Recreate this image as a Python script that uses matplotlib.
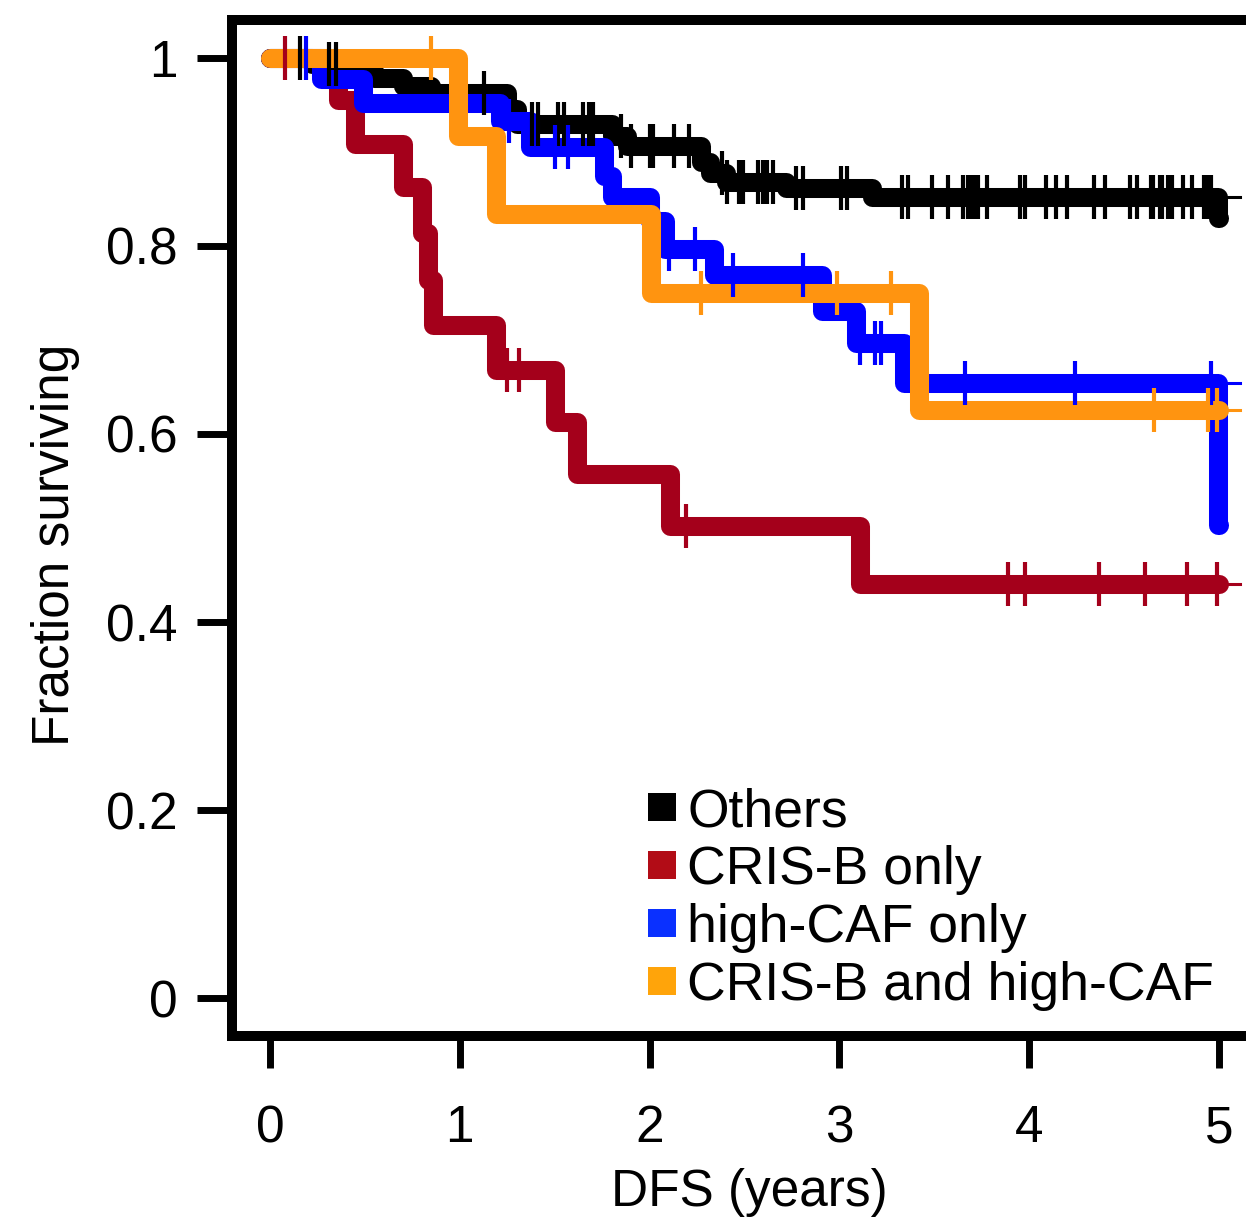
import numpy as np
import matplotlib
matplotlib.use("Agg")
import matplotlib.pyplot as plt
from matplotlib.lines import Line2D

plt.rcParams['font.family'] = ['Liberation Sans', 'DejaVu Sans']
plt.rcParams['font.size'] = 37

# Kaplan-Meier curves: event times (years) and survival after each event
groups = ["Others", "CRIS-B only", "high-CAF only", "CRIS-B and high-CAF"]

others_times = [0.22, 0.42, 0.55, 0.70, 0.85, 1.25, 1.30, 1.80, 1.88, 2.27, 2.32, 2.40, 2.72, 3.17, 4.995]
others_surv = [0.993, 0.986, 0.978, 0.970, 0.962, 0.945, 0.929, 0.917, 0.906, 0.889, 0.877, 0.868, 0.861, 0.852, 0.829]
others_cens = [0.16, 0.31, 0.35, 1.13, 1.38, 1.41, 1.52, 1.55, 1.65, 1.68, 1.70, 1.85, 1.90,
               2.00, 2.02, 2.13, 2.21, 2.38, 2.41, 2.47, 2.49, 2.57, 2.60, 2.62, 2.65, 2.77, 2.81,
               3.01, 3.04, 3.33, 3.36, 3.49, 3.57, 3.65, 3.68, 3.70, 3.71, 3.73, 3.78, 3.95, 3.98,
               4.09, 4.14, 4.20, 4.34, 4.40, 4.53, 4.57, 4.64, 4.65, 4.69, 4.70, 4.73, 4.75, 4.81,
               4.86, 4.92, 4.94, 4.96]

crisb_times = [0.36, 0.45, 0.70, 0.80, 0.83, 0.86, 1.19, 1.50, 1.62, 2.11, 3.11]
crisb_surv = [0.955, 0.908, 0.862, 0.814, 0.764, 0.716, 0.668, 0.613, 0.557, 0.502, 0.440]
crisb_cens = [0.08, 1.25, 1.31, 2.19, 3.89, 3.98, 4.37, 4.61, 4.83, 4.99]

caf_times = [0.27, 0.49, 1.21, 1.37, 1.76, 1.80, 2.00, 2.08, 2.34, 2.91, 3.09, 3.34, 4.995]
caf_surv = [0.977, 0.952, 0.933, 0.905, 0.874, 0.852, 0.826, 0.797, 0.769, 0.731, 0.697, 0.654, 0.503]
caf_cens = [0.19, 1.26, 1.50, 1.57, 2.10, 2.24, 2.44, 2.81, 3.11, 3.19, 3.22, 3.66, 4.24, 4.96]

both_times = [0.99, 1.19, 2.01, 3.42]
both_surv = [0.917, 0.834, 0.750, 0.625]
both_cens = [0.85, 2.27, 2.99, 3.27, 4.66, 4.94, 4.99]

line_colors = ["#000000", "#A4001B", "#0000FF", "#FF9410"]
legend_colors = ["#000000", "#B20C16", "#0A30FF", "#FFA40A"]

end_time = 5.0
stub_end = 5.11

fig = plt.figure(figsize=(12.46, 12.32), dpi=100)
ax = fig.add_axes([0.1862, 0.1591, 0.8226, 0.8247])

series = [
    (others_times, others_surv, others_cens),
    (crisb_times, crisb_surv, crisb_cens),
    (caf_times, caf_surv, caf_cens),
    (both_times, both_surv, both_cens),
]
zorders = [3, 2, 4, 5]

for (times, surv, cens), col, z in zip(series, line_colors, zorders):
    t = np.array([0.0] + times + [end_time])
    s = np.array([1.0] + surv + [surv[-1]])
    order = np.argsort(t, kind="stable")
    t, s = t[order], s[order]
    ax.step(t, s, where="post", color=col, lw=13.7, zorder=z,
            solid_capstyle="round", solid_joinstyle="round")
    # thin tail past the end of follow-up
    lvl = s[np.searchsorted(t, 4.99, side="right") - 1]
    ax.plot([end_time, stub_end], [lvl, lvl], color=col, lw=2.2, zorder=z)
    # censor marks
    c = np.array(cens)
    cs = s[np.searchsorted(t, c, side="right") - 1]
    ax.plot(c, cs, linestyle="none", marker="|", markersize=31, mew=3,
            color=col, zorder=6)

ax.set_xlim(-0.2, 5.2)
ax.set_ylim(-0.04, 1.04)
ax.set_xticks([0, 1, 2, 3, 4, 5])
ax.set_xticklabels(["0", "1", "2", "3", "4", "5"])
ax.set_yticks([0, 0.2, 0.4, 0.6, 0.8, 1.0])
ax.set_yticklabels(["0", "0.2", "0.4", "0.6", "0.8", "1"])

for sp in ax.spines.values():
    sp.set_linewidth(7.2)
ax.tick_params(axis="y", direction="out", length=25, width=5, pad=14)
ax.tick_params(axis="x", direction="out", length=23, width=5, pad=26)

ax.set_xlabel("DFS (years)")
ax.set_ylabel("Fraction surviving")
ax.xaxis.set_label_coords(0.505, -0.130)
ax.yaxis.set_label_coords(-0.148, 0.483)

handles = [Line2D([], [], linestyle="none", marker="s", markersize=19.5,
                  markeredgewidth=0, color=c) for c in legend_colors]
ax.legend(handles, groups, loc="upper left", bbox_to_anchor=(0.4068, 0.245),
          frameon=False, borderpad=0, borderaxespad=0, handlelength=0.5,
          handletextpad=0.22, labelspacing=0.15, fontsize=38.5)

fig.savefig("out.png", dpi=100)
